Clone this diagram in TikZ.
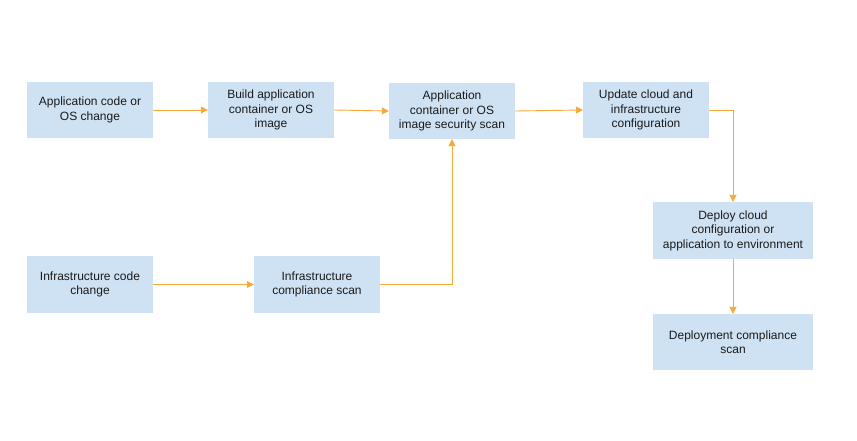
\documentclass[tikz,border=0pt]{standalone}
\usepackage{fontspec}
\setmainfont{Liberation Sans}
\usetikzlibrary{arrows.meta}
\definecolor{boxfill}{HTML}{CFE2F3}
\definecolor{arr}{HTML}{F8A73A}
\definecolor{txt}{HTML}{1A1A1A}
\begin{document}
\begin{tikzpicture}[x=1pt,y=-1pt,
  stepbox/.style={rectangle,fill=boxfill,draw=none,minimum width=126pt,minimum height=56pt,
    align=center,inner sep=2pt,text=txt,font=\fontsize{12}{14.5}\selectfont},
  widebox/.style={stepbox,minimum width=160pt},
  flow/.style={draw=arr,line width=0.9pt,-{Triangle[length=7pt,width=7pt]}}]
\useasboundingbox (0,0) rectangle (857,441);
\node[stepbox] (a) at (90,110) {Application code or\\OS change};
\node[stepbox] (b) at (271,110) {Build application\\container or OS\\image};
\node[stepbox] (c) at (452,111) {Application\\container or OS\\image security scan};
\node[stepbox] (d) at (646,110) {Update cloud and\\infrastructure\\configuration};
\node[widebox,minimum height=57pt] (e) at (733,230.5) {Deploy cloud\\configuration or\\application to environment};
\node[widebox] (f) at (733,342) {Deployment compliance\\scan};
\node[stepbox,minimum height=57pt] (g) at (90,284.5) {Infrastructure code\\change};
\node[stepbox,minimum height=57pt] (h) at (317,284.5) {Infrastructure\\compliance scan};
\draw[flow] (a) -- (b);
\draw[flow] (b.east) -- (c.west);
\draw[flow] (c.east) -- (d.west);
\draw[flow] (d.east) -| (e.north);
\draw[flow] (e) -- (f);
\draw[flow] (g) -- (h);
\draw[flow] (h.east) -| (c.south);
\end{tikzpicture}
\end{document}
